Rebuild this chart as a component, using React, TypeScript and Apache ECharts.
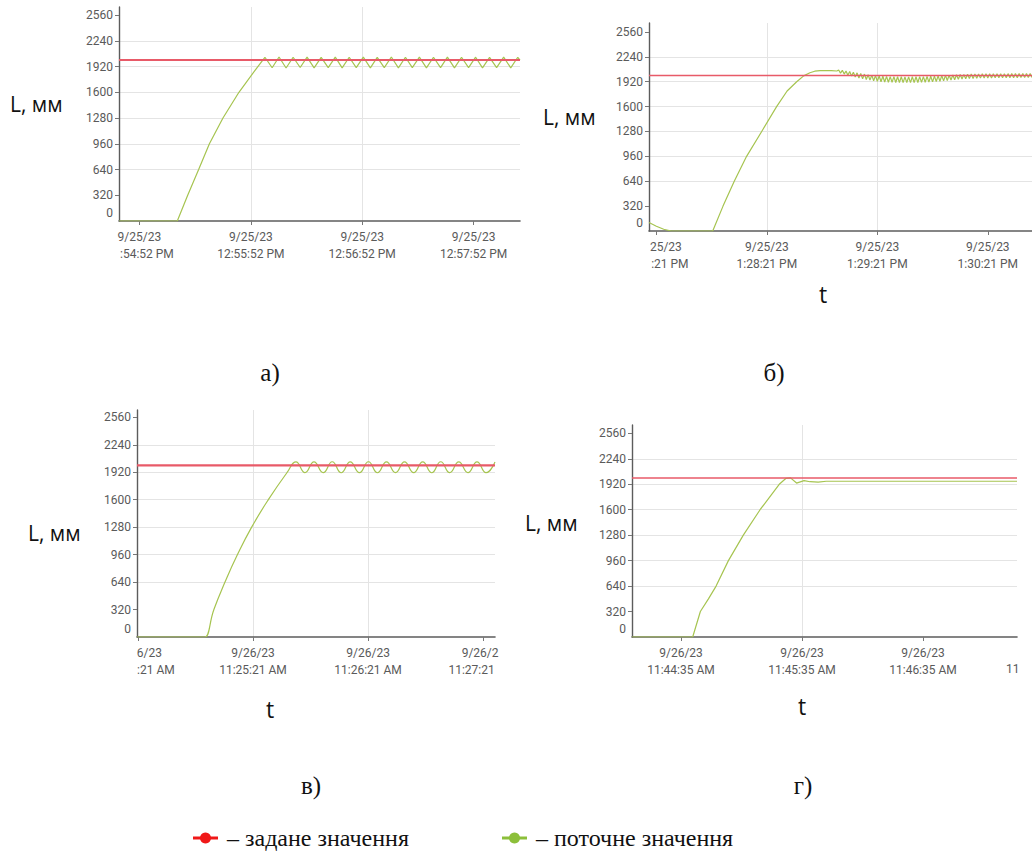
import React, { useEffect, useRef } from 'react';
import * as echarts from 'echarts';

// ---------------- DATA ----------------
const SETPOINT = 2000;
const Y_TICKS = [0, 320, 640, 960, 1280, 1600, 1920, 2240, 2560];
const TICK_SECONDS = [0, 60, 120, 180];

// а) seconds relative to 12:54:52 PM
const A_WINDOW = [-11, 205];
const A_X_LABELS = ['9/25/23\n:54:52 PM', '9/25/23\n12:55:52 PM', '9/25/23\n12:56:52 PM', '9/25/23\n12:57:52 PM'];
const A_CURRENT: number[][] = [
  [-11, 0], [20.4, 0], [26, 320], [31.9, 640], [37.7, 960], [45, 1280], [53.6, 1600], [63.8, 1920],
  [67.6, 2035], [71.5, 1905], [75.2, 2038], [79.0, 1902], [82.8, 2035], [86.6, 1908], [90.3, 2036],
  [94.1, 1904], [97.9, 2034], [101.7, 1906], [105.5, 2037], [109.2, 1903], [113.0, 2035], [116.8, 1907],
  [120.6, 2036], [124.4, 1904], [128.1, 2034], [131.9, 1906], [135.7, 2038], [139.5, 1903], [143.3, 2035],
  [147.0, 1907], [150.8, 2036], [154.6, 1904], [158.4, 2035], [162.2, 1906], [165.9, 2037], [169.7, 1903],
  [173.5, 2035], [177.3, 1907], [181.1, 2036], [184.8, 1904], [188.6, 2034], [192.4, 1906], [196.2, 2037],
  [200.0, 1904], [203.8, 2035], [205, 2000],
];
const A_SET: number[][] = [[-11, SETPOINT], [205, SETPOINT]];

// б) seconds relative to 1:27:21 PM
const B_WINDOW = [-4, 204];
const B_X_LABELS = ['25/23\n:21 PM', '9/25/23\n1:28:21 PM', '9/25/23\n1:29:21 PM', '9/25/23\n1:30:21 PM'];
const B_CURRENT: number[][] = [
  [-4, 110], [0, 62], [4, 22], [8, 0], [30.6, 0], [36.2, 320], [42.3, 640], [49, 960], [57.2, 1280],
  [65.3, 1600], [71, 1800], [76.2, 1920], [80, 1995], [83.4, 2035], [86, 2055], [88.9, 2062], [92, 2064],
  [95, 2062], [98, 2058],
  [99, 2070], [100, 2030], [101, 2066], [102, 2018], [103, 2058], [104, 2004], [105, 2050], [106, 1992],
  [107, 2042], [108, 1980], [109, 2034], [110, 1968], [111, 2026], [112, 1958], [113, 2018], [114, 1948],
  [115, 2010], [116, 1940], [117, 2004], [118, 1932], [119, 1998], [120, 1926], [121, 1994], [122, 1920],
  [123, 1990], [124, 1916], [125, 1988], [126, 1913], [127, 1986], [128, 1911], [129, 1985], [130, 1910],
  [131, 1984], [132, 1909], [133, 1984], [134, 1908], [135, 1983], [136, 1908], [137, 1983], [138, 1908],
  [139, 1984], [140, 1909], [141, 1984], [142, 1910], [143, 1985], [144, 1911], [145, 1986], [146, 1913],
  [147, 1988], [148, 1915], [149, 1990], [150, 1918], [151, 1992], [152, 1922], [153, 1995], [154, 1926],
  [155, 1998], [156, 1931], [157, 2001], [158, 1936], [159, 2004], [160, 1941], [161, 2007], [162, 1946],
  [163, 2010], [164, 1950], [165, 2012], [166, 1954], [167, 2014], [168, 1957], [169, 2016], [170, 1960],
  [171, 2018], [172, 1962], [173, 2019], [174, 1964], [175, 2020], [176, 1966], [177, 2021], [178, 1967],
  [179, 2022], [180, 1968], [181, 2022], [182, 1969], [183, 2023], [184, 1970], [185, 2023], [186, 1970],
  [187, 2023], [188, 1971], [189, 2024], [190, 1971], [191, 2024], [192, 1972], [193, 2024], [194, 1972],
  [195, 2024], [196, 1972], [197, 2024], [198, 1973], [199, 2024], [200, 1973], [201, 2024], [202, 1973],
  [203, 2024], [204, 1973],
];
const B_SET: number[][] = [[-4, SETPOINT], [204, SETPOINT]];

// в) seconds relative to 11:24:21 AM
const C_WINDOW = [-0.5, 186.2];
const C_X_LABELS = ['6/23\n:21 AM', '9/26/23\n11:25:21 AM', '9/26/23\n11:26:21 AM', '9/26/2\n11:27:21'];
const C_CURRENT: number[][] = [
  [-0.5, 0], [34.5, 0], [35, 0], [39.6, 320], [45.4, 640], [51.9, 960], [59.3, 1280], [68, 1600],
  [77.9, 1920], [82.4, 2040], [87.1, 1915], [91.8, 2040], [96.6, 1915], [101.3, 2042], [106, 1914],
  [110.7, 2041], [115.5, 1915], [120.2, 2042], [124.9, 1914], [129.6, 2040], [134.3, 1916], [139, 2041],
  [143.8, 1915], [148.5, 2040], [153.2, 1914], [157.9, 2042], [162.6, 1915], [167.3, 2040], [172.1, 1916],
  [176.8, 2041], [181.5, 1915], [186.2, 2040],
];
const C_SET: number[][] = [[-0.5, SETPOINT], [186.2, SETPOINT]];

// г) seconds relative to 11:44:35 AM
const D_WINDOW = [-24.3, 166.6];
const D_X_LABELS = ['9/26/23\n11:44:35 AM', '9/26/23\n11:45:35 AM', '9/26/23\n11:46:35 AM'];
const D_CUT_LABEL = '11';
const D_CURRENT: number[][] = [
  [-24.3, 0], [5.8, 0], [9.6, 320], [13.6, 480], [17.4, 640], [23.5, 960], [30.9, 1280], [39.2, 1600],
  [48.7, 1920], [52.1, 1995], [54.3, 2000], [57.3, 1935], [61, 1965], [64, 1952], [68, 1948], [72, 1958],
  [166.6, 1958],
];
const D_SET: number[][] = [[-24.3, SETPOINT], [166.6, SETPOINT]];

const Y_NAME = 'L, мм';
const X_NAME = 't';
const CAPTIONS = ['а)', 'б)', 'в)', 'г)'];
const LEGEND_NAMES = ['– задане значення', '– поточне значення'];

// ---------------- STYLE / LAYOUT ----------------
const TICK_FONT = 'Roboto';
const TICK_COLOR = '#5a5a5a';
const GREEN = '#a6c450';
const RED = '#e85a68';
const AXIS_COLOR = '#5c5c5c';
const GRID_COLOR = '#e4e4e4';

const GRIDS = [
  { left: 119, top: 7, width: 401, height: 214 },
  { left: 649, top: 23, width: 383, height: 208 },
  { left: 137, top: 410, width: 358, height: 227 },
  { left: 632, top: 425, width: 385, height: 212 },
];
const Y_MAX = [2660, 2675, 2645, 2665];
const RED_WIDTH = [2, 1.5, 2.2, 1.5];
// per label index: per line [padLeft, padRight]
const LABEL_PADS: Record<number, number[][]>[] = [
  { 0: [[0, 0], [15, 0]] },
  { 0: [[19, 0], [27, 0]] },
  { 0: [[23, 0], [36, 0]], 3: [[0, 6], [0, 23]] },
  {},
];

const baseText = { fontFamily: TICK_FONT, fontSize: 12, color: TICK_COLOR, lineHeight: 17 };

function makeXAxis(i: number, win: number[], labels: string[]) {
  const ticks = TICK_SECONDS.filter((s) => s >= win[0] && s <= win[1]);
  const pads = LABEL_PADS[i];
  const rich: Record<string, any> = { n: { ...baseText } };
  Object.keys(pads).forEach((k) => {
    pads[+k].forEach((p, j) => {
      rich[`l${k}_${j}`] = { ...baseText, padding: [0, p[1], 0, p[0]] };
    });
  });
  return {
    type: 'value',
    gridIndex: i,
    min: win[0],
    max: win[1],
    minInterval: 60,
    maxInterval: 60,
    axisLine: { show: true, onZero: false, lineStyle: { color: AXIS_COLOR, width: 1.6 } },
    axisTick: { show: true, length: 4, customValues: ticks, lineStyle: { color: '#777' } },
    axisLabel: {
      customValues: ticks,
      margin: 7,
      ...baseText,
      formatter: (v: number) => {
        const idx = TICK_SECONDS.indexOf(Math.round(v * 1000) / 1000);
        if (idx < 0 || !labels[idx]) return '';
        const lines = labels[idx].split('\n');
        return lines
          .map((ln, j) => (pads[idx] ? `{l${idx}_${j}|${ln}}` : `{n|${ln}}`))
          .join('\n');
      },
      rich,
    },
    splitLine: { show: true, showMinLine: false, showMaxLine: false, lineStyle: { color: GRID_COLOR, width: 1 } },
  };
}

function makeYAxis(i: number, max: number) {
  return {
    type: 'value',
    gridIndex: i,
    min: 0,
    max,
    interval: 320,
    axisLine: { show: true, onZero: false, lineStyle: { color: AXIS_COLOR, width: 1.4 } },
    axisTick: { show: true, length: 4, customValues: Y_TICKS.slice(1), lineStyle: { color: '#777' } },
    axisLabel: {
      customValues: Y_TICKS,
      margin: 6,
      fontFamily: TICK_FONT,
      fontSize: 12,
      color: TICK_COLOR,
      formatter: (v: number) => (v === 0 ? '{z|0}' : Y_TICKS.includes(v) ? String(v) : ''),
      rich: { z: { fontFamily: TICK_FONT, fontSize: 12, color: TICK_COLOR, padding: [0, 0, 17, 0] } },
    },
    splitLine: { show: true, showMinLine: false, showMaxLine: false, lineStyle: { color: GRID_COLOR, width: 1 } },
  };
}

function lineSeries(i: number, data: number[][], color: string, width: number, z: number, smooth: number | boolean = false) {
  return {
    type: 'line',
    xAxisIndex: i,
    yAxisIndex: i,
    data,
    showSymbol: false,
    symbol: 'none',
    smooth,
    lineStyle: { color, width },
    itemStyle: { color },
    z,
  };
}

function txt(text: string, x: number, y: number, size: number, family: string, align = 'center', color = '#111') {
  return {
    type: 'text',
    x,
    y,
    style: { text, fontSize: size, fontFamily: family, fill: color, align, verticalAlign: 'middle' },
  };
}

export default function App() {
  const ref = useRef<HTMLDivElement>(null);
  useEffect(() => {
    if (!ref.current) return;
    const chart = echarts.init(ref.current, undefined, { renderer: 'svg' });
    const windows = [A_WINDOW, B_WINDOW, C_WINDOW, D_WINDOW];
    const labels = [A_X_LABELS, B_X_LABELS, C_X_LABELS, D_X_LABELS];
    const currents = [A_CURRENT, B_CURRENT, C_CURRENT, D_CURRENT];
    const sets = [A_SET, B_SET, C_SET, D_SET];
    const series: any[] = [];
    for (let i = 0; i < 4; i++) {
      series.push(lineSeries(i, currents[i], GREEN, 1.2, 2, i === 2 ? 0.5 : false));
      series.push(lineSeries(i, sets[i], RED, RED_WIDTH[i], 3));
    }
    const serif = "'Liberation Serif', 'Times New Roman', serif";
    const sans = "'Open Sans', 'Noto Sans', sans-serif";
    const graphic: any[] = [
      txt(Y_NAME, 10, 104, 21, sans, 'left'),
      txt(Y_NAME, 543, 117, 21, sans, 'left'),
      txt(Y_NAME, 28, 533, 21, sans, 'left'),
      txt(Y_NAME, 525, 523, 21, sans, 'left'),
      txt(X_NAME, 823, 294, 23, sans),
      txt(X_NAME, 270, 709, 23, sans),
      txt(X_NAME, 802, 706, 23, sans),
      txt(CAPTIONS[0], 270, 372, 25, serif),
      txt(CAPTIONS[1], 774, 372, 25, serif),
      txt(CAPTIONS[2], 311, 785, 25, serif),
      txt(CAPTIONS[3], 803, 785, 25, serif),
      { type: 'text', x: 1006, y: 669, style: { text: D_CUT_LABEL, fontSize: 12, fontFamily: TICK_FONT, fill: TICK_COLOR, align: 'left', verticalAlign: 'middle' } },
      { type: 'line', shape: { x1: 193, y1: 838, x2: 218, y2: 838 }, style: { stroke: '#f01818', lineWidth: 3 } },
      { type: 'circle', shape: { cx: 205.5, cy: 838, r: 5.5 }, style: { fill: '#f01818' } },
      { type: 'line', shape: { x1: 502, y1: 838, x2: 527, y2: 838 }, style: { stroke: '#8cbf3a', lineWidth: 3 } },
      { type: 'circle', shape: { cx: 514.5, cy: 838, r: 5.5 }, style: { fill: '#8cbf3a' } },
      txt(LEGEND_NAMES[0], 227, 838, 24, serif, 'left', '#111'),
      txt(LEGEND_NAMES[1], 536, 838, 24, serif, 'left', '#111'),
    ];
    chart.setOption({
      animation: false,
      backgroundColor: '#ffffff',
      grid: GRIDS.map((g) => ({ ...g, containLabel: false })),
      xAxis: windows.map((w, i) => makeXAxis(i, w, labels[i])),
      yAxis: Y_MAX.map((m, i) => makeYAxis(i, m)),
      series,
      graphic,
    });
    return () => chart.dispose();
  }, []);
  return (
    <div
      ref={ref}
      style={{ position: 'absolute', left: 0, top: 0, width: 1032, height: 854, background: '#fff' }}
    />
  );
}
